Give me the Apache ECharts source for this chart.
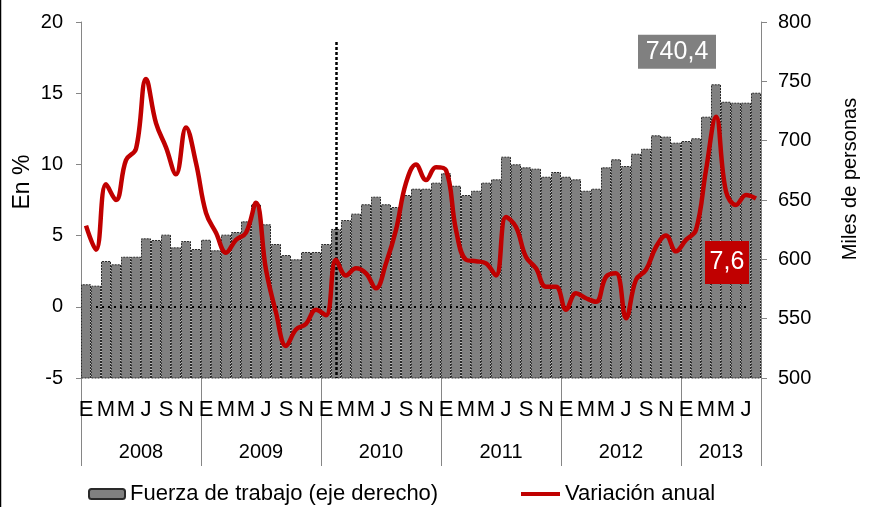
<!DOCTYPE html>
<html>
<head>
<meta charset="utf-8">
<script src="https://cdn.jsdelivr.net/npm/echarts@6/dist/echarts.min.js"></script>
<style>
  html, body { margin: 0; padding: 0; background: #fff; }
  #chart { width: 880px; height: 507px; }
</style>
</head>
<body>
<div id="chart"></div>
<script>
// ---- datos ----

const monthLetters = ["E", "F", "M", "A", "M", "J", "J", "A", "S", "O", "N", "D"];
const years = ["2008", "2009", "2010", "2011", "2012", "2013"];
const monthsPerYear = [12, 12, 12, 12, 12, 8];

// Fuerza de trabajo (miles de personas), eje derecho
const fuerza = [
  579.0, 577.8, 598.6, 595.8, 602.2, 602.2, 617.7, 616.3, 620.8, 610.1, 615.4, 608.7,
  616.5, 607.6, 620.8, 623.0, 632.0, 646.6, 629.5, 612.9, 603.6, 600.0, 606.2, 606.2,
  612.9, 625.6, 633.1, 638.5, 646.4, 652.8, 646.4, 644.1, 654.2, 659.5, 659.5, 664.6,
  672.5, 662.0, 654.2, 657.8, 664.6, 667.4, 686.5, 680.1, 677.5, 676.4, 669.6, 673.6,
  669.6, 667.4, 657.8, 659.5, 677.5, 684.3, 678.6, 689.0, 693.2, 704.5, 703.4, 698.3,
  699.7, 702.0, 720.2, 747.5, 732.8, 732.0, 732.0, 740.4
];

// Variación anual (%), eje izquierdo
const variacion = [
  5.7, 4.0, 8.6, 7.5, 10.3, 11.1, 16.0, 12.9, 11.2, 9.3, 12.6, 10.1,
  6.6, 5.2, 3.8, 4.7, 5.2, 7.3, 2.6, -0.4, -2.75, -1.6, -1.2, -0.2,
  -0.6, 3.3, 2.2, 2.7, 2.35, 1.3, 3.05, 5.4, 8.7, 10.0, 8.9, 9.8,
  9.6, 5.4, 3.3, 3.2, 3.05, 2.2, 6.3, 5.6, 3.5, 2.7, 1.4, 1.4,
  -0.2, 0.95, 0.6, 0.35, 2.1, 2.35, -0.8, 1.9, 2.6, 4.2, 5.0, 3.9,
  4.7, 5.4, 9.6, 13.35, 8.1, 7.15, 7.85, 7.6
];

const lastFuerzaLabel = "740,4";
const lastVariacionLabel = "7,6";

// ---- ejes de categorías ----

const months = [];
monthsPerYear.forEach(n => { for (let i = 0; i < n; i++) months.push(monthLetters[i]); });

// eje de años: puntos cada medio mes (boundaryGap false)
const halfCount = months.length * 2 + 1;
const halfPoints = Array.from({ length: halfCount }, (_, i) => String(i));
const yearTicks = new Set();
const yearLabelAt = {};
let start = 0;
monthsPerYear.forEach((n, k) => {
  yearTicks.add(start * 2);
  yearLabelAt[start * 2 + n] = years[k];
  start += n;
});
yearTicks.add(start * 2);

const FONT = "'Liberation Sans', Arial, sans-serif";
const AXIS_GRAY = "#868686";
const RED = "#c00000";

const chart = echarts.init(document.getElementById("chart"), null, { renderer: "canvas" });

chart.setOption({
  animation: false,
  textStyle: { fontFamily: FONT, color: "#000" },
  graphic: [
    { type: "line", shape: { x1: 0.5, y1: 0, x2: 0.5, y2: 507 }, style: { stroke: "#000", lineWidth: 1.5 } }
  ],
  grid: { left: 81, right: 119, top: 22, bottom: 129, outerBoundsMode: "none", containLabel: false },
  legend: [
    {
      left: 83, top: 478,
      itemWidth: 36, itemHeight: 10,
      textStyle: { fontFamily: FONT, fontSize: 22, color: "#000" },
      data: ["Fuerza de trabajo (eje derecho)"]
    },
    {
      left: 516, top: 478,
      itemWidth: 39, itemHeight: 4, icon: "rect",
      textStyle: { fontFamily: FONT, fontSize: 22, color: "#000" },
      data: ["Variación anual"]
    }
  ],
  xAxis: [
    {
      type: "category", data: months, position: "bottom",
      axisLine: { lineStyle: { color: AXIS_GRAY, width: 1 } },
      axisTick: { interval: 0, length: 42, lineStyle: { color: AXIS_GRAY } },
      axisLabel: { interval: 1, margin: 21, fontSize: 22, color: "#000" }
    },
    {
      type: "category", data: halfPoints, boundaryGap: false, position: "bottom",
      axisLine: { show: false },
      axisTick: { interval: (i) => yearTicks.has(i), length: 88, lineStyle: { color: AXIS_GRAY } },
      axisLabel: {
        interval: (i) => yearLabelAt[i] !== undefined,
        formatter: (v, i) => yearLabelAt[i] || "",
        margin: 64, fontSize: 20, color: "#000"
      }
    }
  ],
  yAxis: [
    {
      type: "value", min: -5, max: 20, interval: 5, position: "left",
      name: "En %", nameLocation: "middle", nameGap: 47, nameRotate: 90, nameMoveOverlap: false,
      nameTextStyle: { fontSize: 23, color: "#000", padding: [0, 0, 0, 36] },
      axisLine: { show: true, lineStyle: { color: AXIS_GRAY } },
      axisTick: { show: true, length: 5, lineStyle: { color: AXIS_GRAY } },
      axisLabel: { margin: 18, fontSize: 20, color: "#000" },
      splitLine: { show: false }
    },
    {
      type: "value", min: 500, max: 800, interval: 50, position: "right",
      name: "Miles de personas", nameLocation: "middle", nameGap: 79, nameRotate: 90, nameMoveOverlap: false,
      nameTextStyle: { fontSize: 20, color: "#000", padding: [0, 0, 0, 42] },
      axisLine: { show: true, lineStyle: { color: AXIS_GRAY } },
      axisTick: { show: true, length: 6, lineStyle: { color: AXIS_GRAY } },
      axisLabel: { margin: 17, fontSize: 20, color: "#000" },
      splitLine: { show: false }
    }
  ],
  series: [
    {
      name: "Fuerza de trabajo (eje derecho)",
      type: "bar", xAxisIndex: 0, yAxisIndex: 1,
      data: fuerza,
      barCategoryGap: "0%",
      itemStyle: { color: "#808080", borderColor: "#2a2a2a", borderWidth: 1, borderType: [2, 1] },
      markPoint: {
        silent: true,
        symbol: "rect", symbolSize: [78, 34], symbolOffset: [-79, -41],
        itemStyle: { color: "#808080", borderWidth: 0 },
        label: { show: true, position: "inside", formatter: lastFuerzaLabel, color: "#fff", fontSize: 25, fontFamily: FONT },
        data: [{ coord: [fuerza.length - 1, fuerza[fuerza.length - 1]] }]
      }
    },
    {
      name: "Variación anual",
      type: "line", xAxisIndex: 0, yAxisIndex: 0,
      data: variacion,
      smooth: 0.4, symbol: "none", z: 5,
      lineStyle: { color: RED, width: 4.5 },
      itemStyle: { color: RED },
      markLine: {
        silent: true, symbol: "none",
        label: { show: false },
        lineStyle: { color: "#000", width: 2, type: [2, 4] },
        data: [
          [{ coord: [1, 0] }, { coord: [months.length - 2, 0] }],
          [
            { coord: [25, 18.6], lineStyle: { width: 2.5, type: [3, 2] } },
            { coord: [25, -5], lineStyle: { width: 2.5, type: [3, 2] } }
          ]
        ]
      },
      markPoint: {
        silent: true,
        symbol: "rect", symbolSize: [44, 43], symbolOffset: [-29, 64],
        itemStyle: { color: RED },
        label: { show: true, position: "inside", formatter: lastVariacionLabel, color: "#fff", fontSize: 25, fontFamily: FONT },
        data: [{ coord: [variacion.length - 1, variacion[variacion.length - 1]] }]
      }
    }
  ]
});
</script>
</body>
</html>
